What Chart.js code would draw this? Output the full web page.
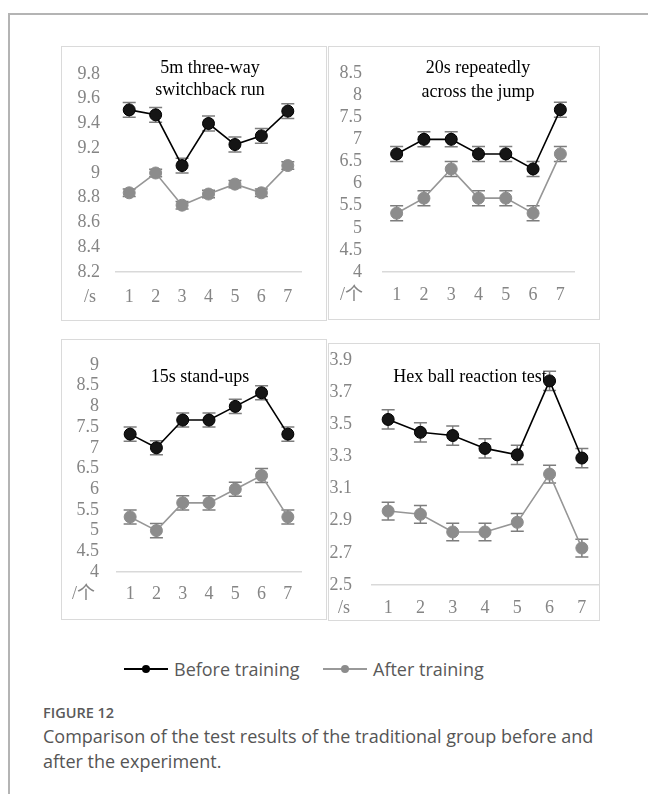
<!DOCTYPE html>
<html>
<head>
<meta charset="utf-8">
<script src="https://cdn.jsdelivr.net/npm/chart.js@4.4.1/dist/chart.umd.min.js"></script>
<style>
  html, body { margin: 0; padding: 0; background: #fff; width: 648px; height: 794px; overflow: hidden; }
  #frame { position: absolute; left: 8px; top: 13px; width: 700px; height: 820px;
           border-left: 2px solid #b4b4b4; border-top: 2px solid #b4b4b4; }
  .box { position: absolute; border: 1.5px solid #dadada; box-sizing: border-box; }
  canvas { position: absolute; }
  #legend { position: absolute; left: 0; top: 656px; width: 648px; height: 26px;
            font-family: "Open Sans", sans-serif; font-size: 18px; color: #595959; }
  .key { position: absolute; top: 0; height: 26px; }
  .key .ln { position: absolute; top: 12px; height: 2px; width: 44px; left: 0; }
  .key .dot { position: absolute; top: 9px; width: 8px; height: 8px; border-radius: 50%; left: 18px; }
  .key span { position: absolute; left: 50px; top: 0; line-height: 26px; white-space: nowrap; }
  #fig { position: absolute; left: 43px; top: 703px; font-family: "Open Sans", sans-serif;
         font-size: 14.5px; font-weight: 600; color: #5a5a5a; }
  #cap { position: absolute; left: 43px; top: 724px; width: 570px; font-family: "Open Sans", sans-serif;
         font-size: 18px; line-height: 25px; color: #555; }
</style>
</head>
<body>
<div id="frame"></div>

<div class="box" style="left:61px;top:46px;width:266px;height:275px"></div>
<div class="box" style="left:328px;top:46px;width:272px;height:274px"></div>
<div class="box" style="left:61px;top:339px;width:266px;height:281px"></div>
<div class="box" style="left:328px;top:343px;width:272px;height:278px"></div>

<canvas id="c1" width="266" height="275" style="left:61px;top:46px"></canvas>
<canvas id="c2" width="272" height="274" style="left:328px;top:46px"></canvas>
<canvas id="c3" width="266" height="281" style="left:61px;top:339px"></canvas>
<canvas id="c4" width="272" height="278" style="left:328px;top:343px"></canvas>

<div id="legend">
  <div class="key" style="left:124px">
    <div class="ln" style="background:#000"></div><div class="dot" style="background:#000"></div>
    <span>Before training</span>
  </div>
  <div class="key" style="left:323px">
    <div class="ln" style="background:#999"></div><div class="dot" style="background:#8c8c8c"></div>
    <span>After training</span>
  </div>
</div>
<div id="fig">FIGURE 12</div>
<div id="cap">Comparison of the test results of the traditional group before and after the experiment.</div>

<script>
// Test sessions on the horizontal axis
const trials = ['1', '2', '3', '4', '5', '6', '7'];

// 5 m three-way switchback run (seconds)
const runBefore    = [9.51, 9.47, 9.06, 9.40, 9.23, 9.30, 9.50];
const runAfter     = [8.84, 9.00, 8.74, 8.83, 8.91, 8.84, 9.06];
const runErrBefore = [0.06, 0.06, 0.06, 0.06, 0.06, 0.06, 0.06];
const runErrAfter  = [0.03, 0.03, 0.03, 0.03, 0.03, 0.03, 0.03];
const runTicks     = [8.2, 8.4, 8.6, 8.8, 9.0, 9.2, 9.4, 9.6, 9.8];

// 20 s repeated jumps across (count)
const jumpBefore    = [6.67, 7.00, 7.00, 6.67, 6.67, 6.33, 7.67];
const jumpAfter     = [5.33, 5.67, 6.33, 5.67, 5.67, 5.33, 6.67];
const jumpErrBefore = [0.17, 0.17, 0.17, 0.17, 0.17, 0.17, 0.17];
const jumpErrAfter  = [0.17, 0.17, 0.17, 0.17, 0.17, 0.17, 0.17];
const jumpTicks     = [4, 4.5, 5, 5.5, 6, 6.5, 7, 7.5, 8, 8.5];

// 15 s stand-ups (count)
const standBefore    = [7.33, 7.00, 7.67, 7.67, 8.00, 8.33, 7.33];
const standAfter     = [5.33, 5.00, 5.67, 5.67, 6.00, 6.33, 5.33];
const standErrBefore = [0.17, 0.17, 0.17, 0.17, 0.17, 0.17, 0.17];
const standErrAfter  = [0.17, 0.17, 0.17, 0.17, 0.17, 0.17, 0.17];
const standTicks     = [4, 4.5, 5, 5.5, 6, 6.5, 7, 7.5, 8, 8.5, 9];

// Hex ball reaction test (seconds)
const hexBefore    = [3.53, 3.45, 3.43, 3.35, 3.31, 3.77, 3.29];
const hexAfter     = [2.96, 2.94, 2.83, 2.83, 2.89, 3.19, 2.73];
const hexErrBefore = [0.06, 0.06, 0.06, 0.06, 0.06, 0.06, 0.06];
const hexErrAfter  = [0.055, 0.055, 0.055, 0.055, 0.055, 0.055, 0.055];
const hexTicks     = [2.5, 2.7, 2.9, 3.1, 3.3, 3.5, 3.7, 3.9];

const SERIF = '"Liberation Serif", "Times New Roman", "Noto Sans CJK SC", serif';
const TICK_GREY = '#858585';

// Vertical error bars with caps, drawn beneath the lines and markers
const errorBars = {
  id: 'errorBars',
  beforeDatasetsDraw(chart) {
    const ctx = chart.ctx, ys = chart.scales.y;
    chart.data.datasets.forEach((ds, i) => {
      if (!ds.errors) return;
      const meta = chart.getDatasetMeta(i);
      ctx.save();
      ctx.strokeStyle = '#7d7d7d';
      ctx.lineWidth = 1.5;
      meta.data.forEach((pt, j) => {
        const v = ds.data[j], e = ds.errors[j];
        const top = ys.getPixelForValue(v + e), bot = ys.getPixelForValue(v - e);
        ctx.beginPath();
        ctx.moveTo(pt.x, top); ctx.lineTo(pt.x, bot);
        ctx.moveTo(pt.x - 6.5, top); ctx.lineTo(pt.x + 6.5, top);
        ctx.moveTo(pt.x - 6.5, bot); ctx.lineTo(pt.x + 6.5, bot);
        ctx.stroke();
      });
      ctx.restore();
    });
  }
};

// Panel heading inside the plot (markers may overlap it) and the unit tag beside the x labels
const panelText = {
  id: 'panelText',
  beforeDatasetsDraw(chart, args, opts) {
    const ctx = chart.ctx;
    ctx.save();
    ctx.fillStyle = '#000';
    ctx.font = '18px ' + SERIF;
    ctx.textAlign = 'center';
    ctx.textBaseline = 'middle';
    opts.lines.forEach((t, k) => ctx.fillText(t, opts.x, opts.y + k * opts.gap));
    ctx.fillStyle = TICK_GREY;
    ctx.textAlign = 'left';
    ctx.fillText(opts.unit, opts.unitX, chart.chartArea.bottom + opts.unitDy);
    ctx.restore();
  }
};

function makePanel(id, before, after, errB, errA, ticks, g) {
  new Chart(document.getElementById(id), {
    type: 'line',
    data: {
      labels: trials,
      datasets: [
        { label: 'Before training', data: before, errors: errB,
          borderColor: '#000', backgroundColor: '#151515', borderWidth: 1.6,
          pointRadius: 6, pointBorderColor: '#000', pointBorderWidth: 1, tension: 0 },
        { label: 'After training', data: after, errors: errA,
          borderColor: '#969696', backgroundColor: '#8c8c8c', borderWidth: 1.6,
          pointRadius: 6, pointBorderColor: '#8c8c8c', pointBorderWidth: 1, tension: 0 }
      ]
    },
    options: {
      responsive: false,
      animation: false,
      layout: { autoPadding: false, padding: { left: 0, top: g.top, right: g.right, bottom: 0 } },
      plugins: {
        legend: { display: false },
        tooltip: { enabled: false },
        panelText: { lines: g.title, x: g.tx, y: g.ty, gap: g.gap || 22,
                     unit: g.unit, unitX: g.unitX, unitDy: g.labDy }
      },
      scales: {
        x: {
          type: 'category', offset: true,
          grid: { display: false, drawTicks: false },
          border: { display: true, color: '#d9d9d9', width: 1.5 },
          ticks: { color: TICK_GREY, font: { family: SERIF, size: 18 }, padding: g.labDy - 11,
                   maxRotation: 0, autoSkip: false },
          afterFit: s => { s.height = g.xh; }
        },
        y: {
          bounds: 'data',
          min: ticks[0], max: ticks[ticks.length - 1],
          grid: { display: false, drawTicks: false },
          border: { display: false },
          ticks: { color: TICK_GREY, font: { family: SERIF, size: 18 }, padding: g.ypad,
                   autoSkip: false,
                   callback: v => String(Number(Number(v).toFixed(2))) },
          afterBuildTicks: s => { s.ticks = ticks.map(v => ({ value: v })); },
          // fixed axis width; the plot height is set by the layout padding alone
          afterFit: s => { s.width = g.yw; s.paddingTop = 0; s.paddingBottom = 0; }
        }
      }
    },
    plugins: [errorBars, panelText]
  });
}

makePanel('c1', runBefore, runAfter, runErrBefore, runErrAfter, runTicks,
  { top: 28, right: 26, xh: 49, yw: 55, ypad: 16, labDy: 25,
    title: ['5m three-way', 'switchback run'], tx: 149, ty: 22, gap: 22, unit: '/s', unitX: 23 });

makePanel('c2', jumpBefore, jumpAfter, jumpErrBefore, jumpErrAfter, jumpTicks,
  { top: 27, right: 26, xh: 48, yw: 55, ypad: 21, labDy: 23,
    title: ['20s repeatedly', 'across the jump'], tx: 150, ty: 22, gap: 24, unit: '/个', unitX: 12 });

makePanel('c3', standBefore, standAfter, standErrBefore, standErrAfter, standTicks,
  { top: 26, right: 26, xh: 48, yw: 56, ypad: 18, labDy: 22,
    title: ['15s stand-ups'], tx: 139, ty: 38, unit: '/个', unitX: 11 });

makePanel('c4', hexBefore, hexAfter, hexErrBefore, hexErrAfter, hexTicks,
  { top: 17, right: 2, xh: 36, yw: 44, ypad: 20, labDy: 23,
    title: ['Hex ball reaction test'], tx: 142, ty: 34, unit: '/s', unitX: 10 });
</script>
</body>
</html>
